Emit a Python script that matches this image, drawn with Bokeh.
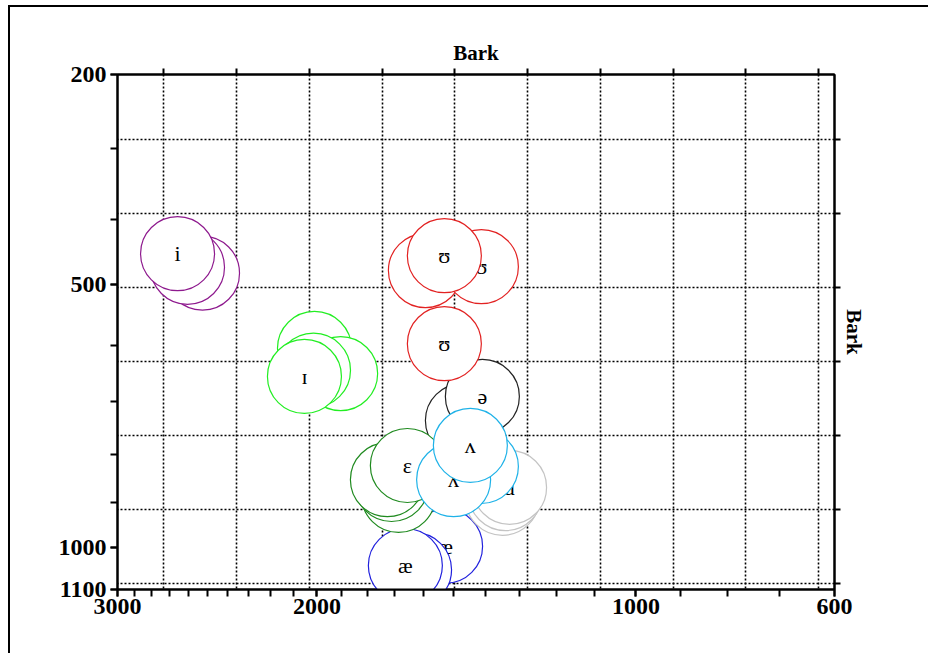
import numpy as np
from bokeh.plotting import figure
from bokeh.models import (FixedTicker, CustomJSTickFormatter, CustomLabelingPolicy,
                          LinearAxis, Range1d)
from bokeh.core.properties import value
from bokeh.embed import file_html
from bokeh.resources import INLINE

# Formant measurements in Hz (F2 horizontal, F1 vertical), one list per vowel,
# listed in the order the tokens are drawn.
i_f2 = [2527, 2605, 2658]
i_f1 = [482, 473, 452]

ih_f2 = [2010, 1904, 2014, 2052]
ih_f1 = [605, 649, 643, 654]

ae_f2 = [1527, 1631, 1663]
ae_f1 = [997, 1052, 1042]

schwa_f2 = [1473, 1411]
schwa_f1 = [735, 690]

uh_f2 = [1594, 1414, 1531, 1531]
uh_f1 = [478, 472, 455, 597]

eh_f2 = [1687, 1712, 1727, 1656]
eh_f1 = [885, 862, 852, 823]

aa_f2 = [1351, 1342, 1330]
aa_f1 = [891, 881, 868]

ah_f2 = [1414, 1501, 1448]
ah_f1 = [825, 852, 783]

vowels = ["i", "ɪ", "æ", "ə", "ʊ", "ɛ", "ɑ", "ʌ"]
colors = ["#8e1a8e", "#22ee22", "#2222dd", "#222222", "#e22222", "#1f8a1f", "#c4c4c4", "#1eb2e8"]
f2_sets = [i_f2, ih_f2, ae_f2, schwa_f2, uh_f2, eh_f2, aa_f2, ah_f2]
f1_sets = [i_f1, ih_f1, ae_f1, schwa_f1, uh_f1, eh_f1, aa_f1, ah_f1]

x_ticks_hz = [3000, 2000, 1000, 600]
y_ticks_hz = [200, 500, 1000, 1100]
x_minor_hz = list(range(600, 3001, 100))
y_minor_hz = list(range(200, 1101, 100))


def bark(f):
    return float(7.0 * np.arcsinh(float(f) / 650.0))


SERIF = "Liberation Serif"

p = figure(
    width=920, height=648,
    x_range=Range1d(bark(3000), bark(600)),
    y_range=Range1d(bark(1100), bark(200)),
    output_backend="svg", toolbar_location=None,
    min_border_left=107, min_border_right=96,
    min_border_top=67, min_border_bottom=66,
)
p.margin = (5, 0, 0, 8)
p.styles = {"border-top": "2px solid black", "border-left": "2px solid black"}
p.background_fill_color = "white"
p.border_fill_color = "white"
p.outline_line_color = "black"
p.outline_line_width = 2

hz_fmt = CustomJSTickFormatter(code="return String(Math.round(650 * Math.sinh(tick / 7)));")

xa = p.xaxis[0]
xa.ticker = FixedTicker(ticks=[bark(f) for f in x_ticks_hz],
                        minor_ticks=[bark(f) for f in x_minor_hz])
ya = p.yaxis[0]
ya.ticker = FixedTicker(ticks=[bark(f) for f in y_ticks_hz],
                        minor_ticks=[bark(f) for f in y_minor_hz])
for ax in (xa, ya):
    ax.formatter = hz_fmt
    ax.major_label_text_font = SERIF
    ax.major_label_text_font_style = "bold"
    ax.major_label_text_font_size = "24px"
    ax.major_label_text_color = "black"
    ax.major_tick_in = 0
    ax.major_tick_out = 7
    ax.minor_tick_in = 0
    ax.minor_tick_out = 7
    ax.major_tick_line_width = 2
    ax.minor_tick_line_width = 2
    ax.axis_line_width = 2
xa.major_label_standoff = 2
ya.major_label_standoff = 4

# integer Bark ticks on the top and right edges, without tick labels
no_labels = CustomLabelingPolicy(code="return new Set()")
top = LinearAxis(ticker=FixedTicker(ticks=list(range(6, 16)), minor_ticks=[]),
                 axis_label="Bark")
right = LinearAxis(ticker=FixedTicker(ticks=list(range(3, 10)), minor_ticks=[]),
                   axis_label="Bark")
for ax in (top, right):
    ax.major_label_policy = no_labels
    ax.major_label_text_font_size = "1px"
    ax.major_label_standoff = 0
    ax.major_tick_in = 0
    ax.major_tick_out = 6
    ax.major_tick_line_width = 2
    ax.minor_tick_line_color = None
    ax.axis_line_width = 2
    ax.axis_label_text_font = SERIF
    ax.axis_label_text_font_style = "bold"
    ax.axis_label_text_font_size = "21px"
    ax.axis_label_text_color = "black"
top.axis_label_standoff = 0
right.axis_label_standoff = -2
p.add_layout(top, "above")
p.add_layout(right, "right")

p.xgrid.ticker = FixedTicker(ticks=list(range(6, 16)))
p.ygrid.ticker = FixedTicker(ticks=list(range(3, 10)))
for g in (p.xgrid, p.ygrid):
    g.grid_line_color = "black"
    g.grid_line_width = 1.6
    g.grid_line_dash = "2 2"

# one white-filled ring per token, its symbol on top, later tokens covering earlier ones
for sym, col, f2s, f1s in zip(vowels, colors, f2_sets, f1_sets):
    for f2, f1 in zip(f2s, f1s):
        x, y = bark(f2), bark(f1)
        p.scatter(x=[x], y=[y], marker="circle", size=74,
                  fill_color="white", fill_alpha=1.0,
                  line_color=col, line_width=1.2)
        p.text(x=[x], y=[y], text=[sym], text_font=value(SERIF),
               text_font_size="22px", text_align="center",
               text_baseline="middle", text_color="black")

open("out.html", "w").write(file_html(p, INLINE))
